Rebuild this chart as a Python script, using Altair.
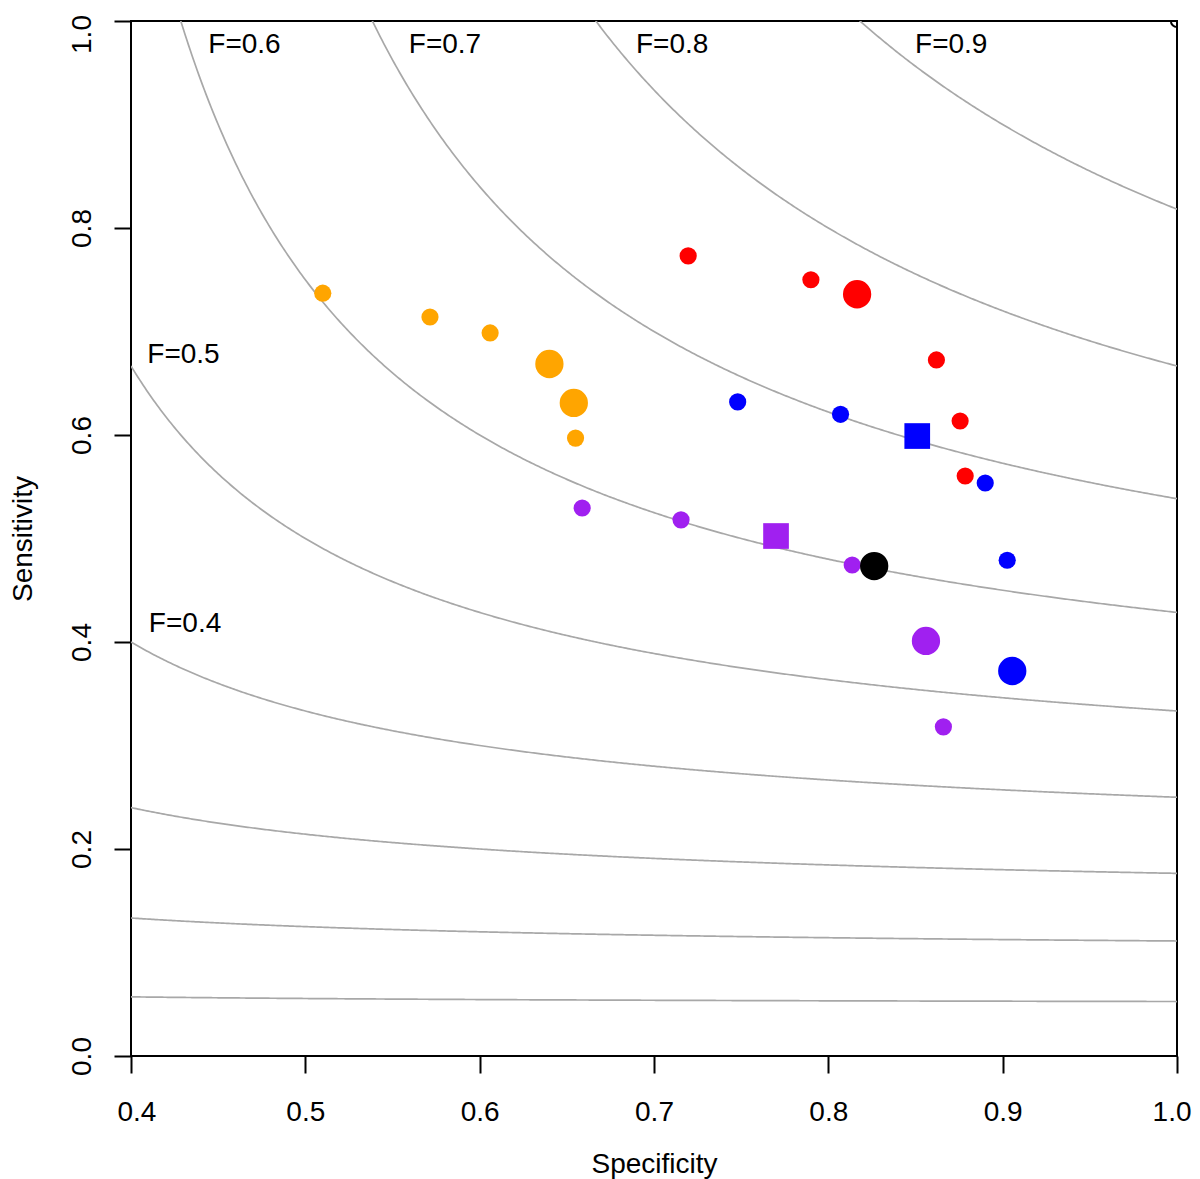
import altair as alt
import pandas as pd

# ---- data ----
spec_x = [0.510, 0.5715, 0.606, 0.655, 0.640, 0.654,
          0.7196, 0.790, 0.8165, 0.862, 0.8756, 0.8785,
          0.748, 0.807, 0.851, 0.890, 0.9026, 0.9055,
          0.6588, 0.7155, 0.770, 0.8137, 0.856, 0.866,
          0.8263]
sens_y = [0.737, 0.714, 0.6986, 0.597, 0.6686, 0.631,
          0.773, 0.750, 0.736, 0.6725, 0.6135, 0.5604,
          0.632, 0.620, 0.599, 0.5536, 0.479, 0.372,
          0.5295, 0.518, 0.5024, 0.4744, 0.401, 0.318,
          0.4734]
group = (["orange"] * 6 + ["red"] * 6 + ["blue"] * 6 + ["purple"] * 6 + ["black"])
kind = ["single", "single", "single", "single", "pooled", "pooled",
        "single", "single", "pooled", "single", "single", "single",
        "single", "single", "summary", "single", "single", "pooled",
        "single", "single", "summary", "single", "pooled", "single",
        "pooled"]

f_levels = [0.1, 0.2, 0.3, 0.4, 0.5, 0.6, 0.7, 0.8, 0.9]
label_text = ["F=0.4", "F=0.5", "F=0.6", "F=0.7", "F=0.8", "F=0.9"]
label_x = [0.431, 0.4301, 0.4651, 0.5801, 0.7104, 0.8705]
label_y = [0.4097, 0.6696, 0.969, 0.969, 0.969, 0.969]

corner_x = [1.0]
corner_y = [1.0]

x_ticks = [0.4, 0.5, 0.6, 0.7, 0.8, 0.9, 1.0]
y_ticks = [0.0, 0.2, 0.4, 0.6, 0.8, 1.0]

group_names = ["orange", "red", "blue", "purple", "black"]
group_colors = ["#FFA500", "#FF0000", "#0000FF", "#A020F0", "#000000"]
kind_names = ["single", "pooled", "summary"]

FONT = "Liberation Sans"

pts = pd.DataFrame({"spec": spec_x, "sens": sens_y, "group": group, "kind": kind})
levels = pd.DataFrame({"F": f_levels})
labels = pd.DataFrame({"x": label_x, "y": label_y, "t": label_text})
corner = pd.DataFrame({"x": corner_x, "y": corner_y})

xscale = alt.Scale(domain=[0.4, 1.0], nice=False, zero=False)
yscale = alt.Scale(domain=[0.0, 1.0], nice=False, zero=False)

xaxis = alt.Axis(values=x_ticks, format=".1f", title="Specificity", grid=False,
                 domain=False, tickSize=17, tickWidth=2, tickColor="black",
                 labelFont=FONT, labelFontSize=28, labelColor="black",
                 labelBaseline="alphabetic", labelPadding=47,
                 labelFlush=True, labelFlushOffset=14,
                 titleFont=FONT, titleFontSize=28, titleFontWeight="normal",
                 titleColor="black", titleBaseline="alphabetic",
                 titleX=523, titleY=116, titleAnchor="middle")
yaxis = alt.Axis(values=y_ticks, format=".1f", title="Sensitivity", grid=False,
                 domain=False, tickSize=17, tickWidth=2, tickColor="black",
                 labelFont=FONT, labelFontSize=28, labelColor="black",
                 labelAngle=270, labelAlign="center", labelBaseline="alphabetic",
                 labelPadding=24, labelFlush=False,
                 labelOffset=alt.ExprRef("datum.value >= 0.99 ? 13 : 0"),
                 titleFont=FONT, titleFontSize=28, titleFontWeight="normal",
                 titleColor="black", titleAngle=270, titleAlign="center",
                 titleBaseline="alphabetic", titleX=-100, titleY=517.5)

curves = alt.Chart(levels).transform_calculate(
    xs="sequence(0.4, 1.0005, 0.001)"
).transform_flatten(["xs"]).transform_calculate(
    d="2 * datum.xs - datum.F"
).transform_filter("datum.d > 0").transform_calculate(
    yv="datum.F * datum.xs / datum.d"
).transform_filter("datum.yv <= 1.3").mark_line(
    color="#A8A8A8", strokeWidth=1.7, clip=True
).encode(
    x=alt.X("xs:Q", scale=xscale, axis=xaxis),
    y=alt.Y("yv:Q", scale=yscale, axis=yaxis),
    detail="F:N",
    order="xs:Q",
)

text = alt.Chart(labels).mark_text(
    font=FONT, fontSize=28, color="black", align="center", baseline="alphabetic"
).encode(
    x=alt.X("x:Q", scale=xscale),
    y=alt.Y("y:Q", scale=yscale),
    text="t:N",
)

points = alt.Chart(pts).mark_point(filled=True, opacity=1, strokeWidth=0).encode(
    x=alt.X("spec:Q", scale=xscale),
    y=alt.Y("sens:Q", scale=yscale),
    color=alt.Color("group:N", scale=alt.Scale(domain=group_names, range=group_colors), legend=None),
    size=alt.Size("kind:N", scale=alt.Scale(type="ordinal", domain=kind_names, range=[295, 800, 660]), legend=None),
    shape=alt.Shape("kind:N", scale=alt.Scale(domain=kind_names, range=["circle", "circle", "square"]), legend=None),
)

corner_mark = alt.Chart(corner).mark_point(
    shape="circle", filled=False, color="black", size=150, strokeWidth=2, clip=True, opacity=1
).encode(
    x=alt.X("x:Q", scale=xscale),
    y=alt.Y("y:Q", scale=yscale),
)

chart = alt.layer(curves, text, points, corner_mark).properties(
    width=1046, height=1035,
    autosize=alt.AutoSizeParams(type="none"),
    padding={"left": 123, "top": 13, "right": 15, "bottom": 123},
).configure(background="white").configure_view(stroke="black", strokeWidth=2)

chart.save("out.html", embed_options={"renderer": "svg", "actions": False})
